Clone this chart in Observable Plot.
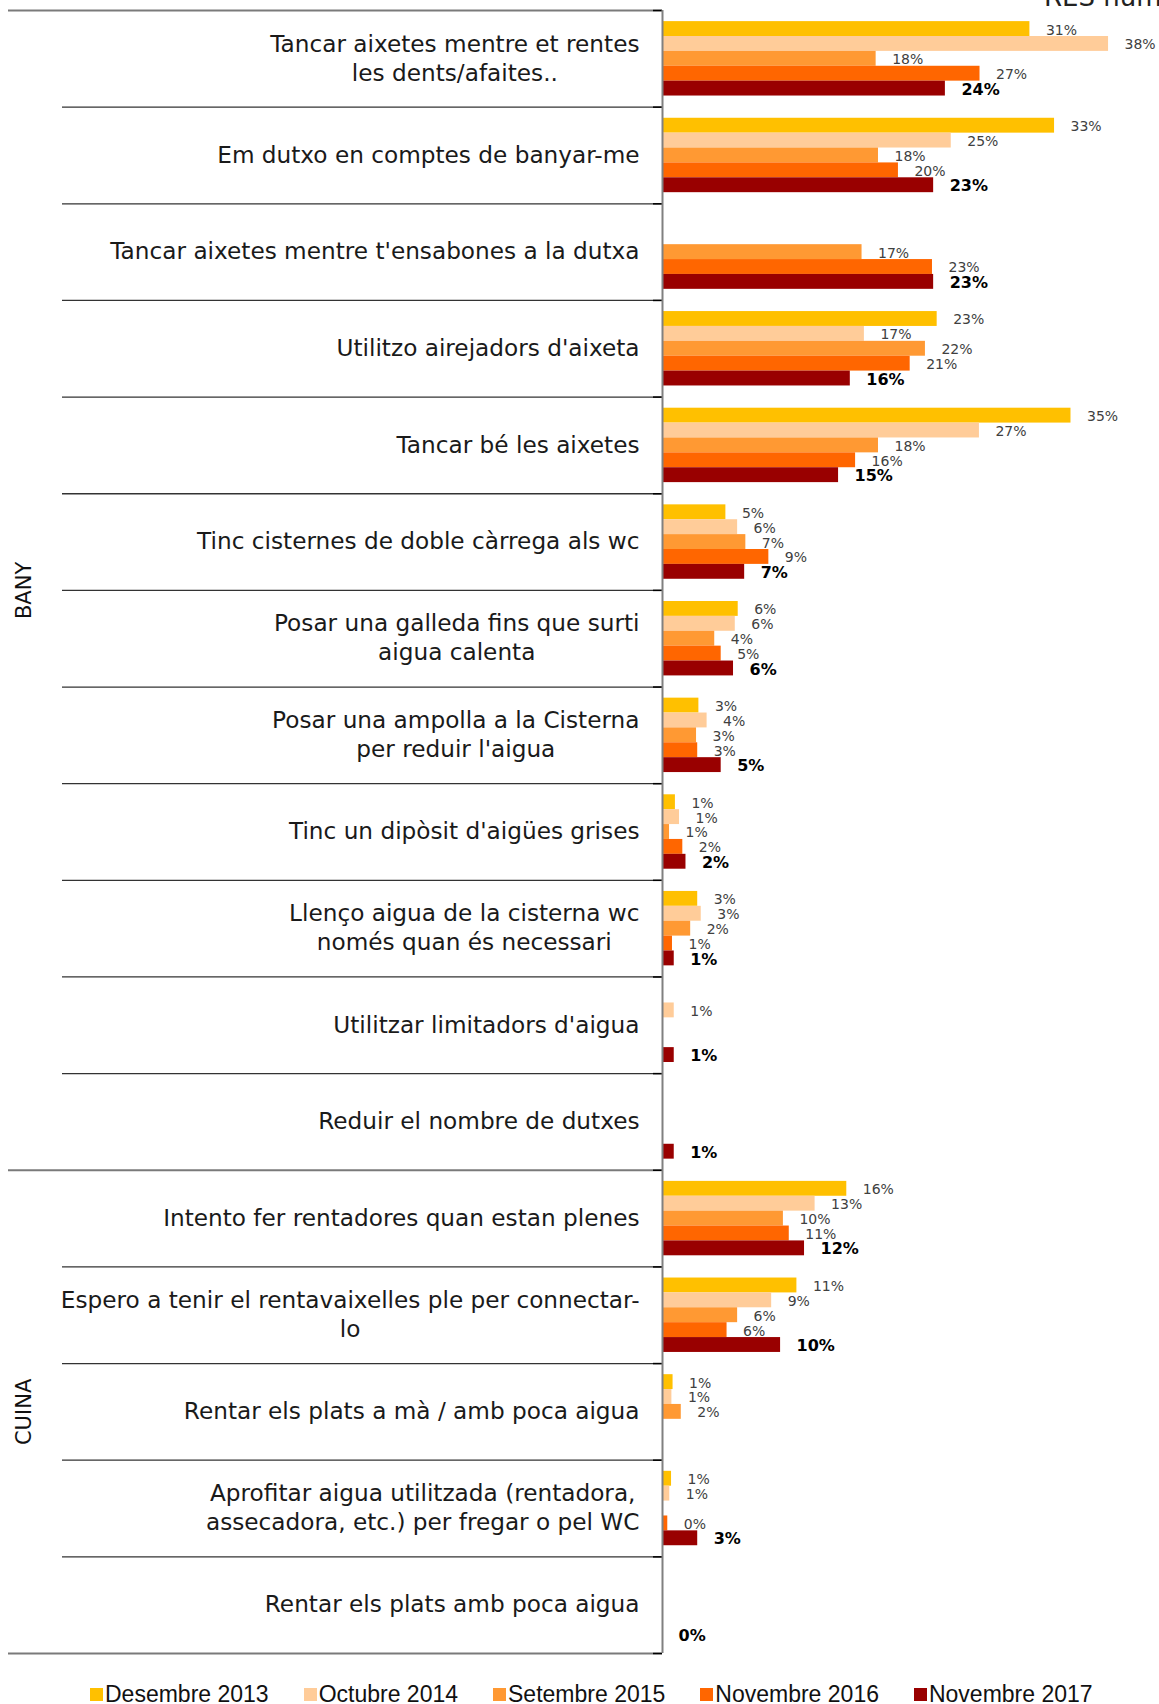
<!DOCTYPE html>
<html><head><meta charset="utf-8">
<script src="https://cdn.jsdelivr.net/npm/d3@7"></script>
<script src="https://cdn.jsdelivr.net/npm/@observablehq/plot@0.6"></script>
<style>
body{margin:0;background:#fff;width:1159px;height:1704px;overflow:hidden;position:relative;font-family:"DejaVu Sans",sans-serif;}
#chart{position:absolute;top:0;left:0;}
#title{position:absolute;top:-16px;left:1044px;font-size:26px;line-height:26px;color:#222;white-space:nowrap;}
#legend{position:absolute;top:1682px;left:90px;display:flex;gap:35px;font-family:"Liberation Sans Narrow","Liberation Sans",sans-serif;font-size:23px;color:#111;line-height:24px;}
.item{display:flex;align-items:center;}
.sw{width:13px;height:13px;margin-right:2px;}
</style></head><body>
<div id="chart"></div><div id="legend"></div><div id="title">RES num</div>
<script>
const categories = [
  "Tancar aixetes mentre et rentes\nles dents/afaites..",
  "Em dutxo en comptes de banyar-me",
  "Tancar aixetes mentre t'ensabones a la dutxa",
  "Utilitzo airejadors d'aixeta",
  "Tancar bé les aixetes",
  "Tinc cisternes de doble càrrega als wc",
  "Posar una galleda fins que surti\naigua calenta",
  "Posar una ampolla a la Cisterna\nper reduir l'aigua",
  "Tinc un dipòsit d'aigües grises",
  "Llenço aigua de la cisterna wc\nnomés quan és necessari",
  "Utilitzar limitadors d'aigua",
  "Reduir el nombre de dutxes",
  "Intento fer rentadores quan estan plenes",
  "Espero a tenir el rentavaixelles ple per connectar-\nlo",
  "Rentar els plats a mà / amb poca aigua",
  "Aprofitar aigua utilitzada (rentadora,\nassecadora, etc.) per fregar o pel WC",
  "Rentar els plats amb poca aigua"
];
const groups = ["BANY", "CUINA"];
const groupSize = [12, 5];
const series = ["Desembre 2013", "Octubre 2014", "Setembre 2015", "Novembre 2016", "Novembre 2017"];
const des2013 = [31.3, 33.4, null, 23.4, 34.8, 5.4, 6.45, 3.1, 1.1, 3.0, null, null, 15.7, 11.45, 0.9, 0.77, null];
const oct2014 = [38.0, 24.6, null, 17.2, 27.0, 6.4, 6.2, 3.8, 1.45, 3.3, 1.0, null, 13.0, 9.3, 0.8, 0.62, null];
const set2015 = [18.2, 18.4, 17.0, 22.4, 18.4, 7.1, 4.45, 2.9, 0.6, 2.4, null, null, 10.3, 6.4, 1.6, null, null];
const nov2016 = [27.05, 20.1, 23.0, 21.1, 16.45, 9.06, 5.0, 3.0, 1.73, 0.85, null, null, 10.8, 5.5, null, 0.45, null];
const nov2017 = [24.1, 23.1, 23.1, 16.0, 15.0, 7.0, 6.05, 5.0, 2.0, 1.0, 1.0, 1.0, 12.1, 10.06, null, 3.0, 0];
const colors = ["#FFC000", "#FFCC99", "#FF9933", "#FF6600", "#990000"];

const valuesBySeries = [des2013, oct2014, set2015, nov2016, nov2017];
const rows = [];
categories.forEach((c, i) => series.forEach((s, j) => {
  const v = valuesBySeries[j][i];
  if (v != null) rows.push({cat: c, row: i, series: s, si: j, value: v});
}));
const PAD = 0.115, BH = 0.154;
const groupStart = groupSize.map((g, i) => d3.sum(groupSize.slice(0, i)));
const groupBounds = [0, ...groupSize.map((g, i) => groupStart[i] + g)];
const boundaries = d3.range(categories.length + 1);
const shortBounds = boundaries.filter(b => !groupBounds.includes(b));

const chart = Plot.plot({
  width: 1159, height: 1665,
  marginLeft: 8, marginRight: 4, marginTop: 10, marginBottom: 12,
  x: {domain: [0, 42], range: [662, 1155], axis: null},
  y: {domain: [0, categories.length], reverse: true, axis: null},
  color: {domain: series, range: colors},
  style: {fontFamily: "DejaVu Sans, sans-serif", background: "white", overflow: "visible"},
  marks: [
    Plot.rect(rows, {x1: () => 0, x2: "value", y1: d => d.row + PAD + d.si * BH, y2: d => d.row + PAD + (d.si + 1) * BH, fill: "series"}),
    Plot.ruleY(shortBounds, {y: d => d, x1: () => 0, x2: () => 0, insetLeft: -600, stroke: "#333", strokeWidth: 1.3}),
    Plot.ruleY(groupBounds, {y: d => d, x1: () => 0, x2: () => 0, insetLeft: -654, stroke: "#7a7a7a", strokeWidth: 1.8}),
    Plot.ruleY(boundaries, {y: d => d, x1: () => 0, x2: () => 0, insetLeft: -9, stroke: "#000", strokeWidth: 1.5}),
    Plot.ruleX([0], {x: d => d, y1: () => 0, y2: () => categories.length, stroke: "#808080", strokeWidth: 2}),
    Plot.text(rows.filter(d => d.si < 4), {x: "value", y: d => d.row + PAD + (d.si + 0.5) * BH, text: d => Math.round(d.value) + "%", textAnchor: "start", dx: 16, dy: 1, fontSize: 14, fill: "#404040"}),
    Plot.text(rows.filter(d => d.si === 4), {x: "value", y: d => d.row + PAD + (d.si + 0.5) * BH, text: d => Math.round(d.value) + "%", textAnchor: "start", dx: 16, dy: 1, fontSize: 16, fontWeight: "bold", fill: "#000"}),
    Plot.text(categories, {x: () => 0, y: (d, i) => i + 0.5, text: d => d, textAnchor: "end", dx: -23, dy: -2, lineHeight: 1.25, fontSize: 23.2, fill: "#1a1a1a"}),
    Plot.text(groups, {y: (d, i) => groupStart[i] + groupSize[i] / 2, text: d => d, frameAnchor: "left", textAnchor: "middle", dx: 16, rotate: -90, fontSize: 21, fill: "#111"})
  ]
});
document.getElementById("chart").appendChild(chart);

// center multi-line category labels within their right-aligned block
chart.querySelectorAll("text").forEach(t => {
  const spans = t.querySelectorAll("tspan");
  if (spans.length > 1) {
    const w = d3.max(Array.from(spans), s => s.getComputedTextLength());
    t.setAttribute("text-anchor", "middle");
    t.style.textAnchor = "middle";
    spans.forEach(s => s.setAttribute("x", -w / 2));
  }
});

const legend = d3.select("#legend");
series.forEach((s, i) => {
  const it = legend.append("div").attr("class", "item");
  it.append("div").attr("class", "sw").style("background", colors[i]);
  it.append("span").text(s);
});
</script>
</body></html>
